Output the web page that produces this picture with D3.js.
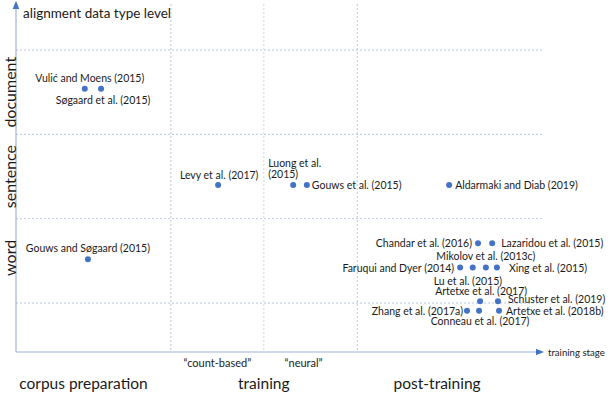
<!DOCTYPE html>
<html>
<head>
    <meta charset="UTF-8">
    <title>alignment data type level vs training stage</title>
    <script src="https://d3js.org/d3.v7.min.js"></script>
    <style>
        body { margin: 0; padding: 0; background: #fff; font-family: Lato, "Open Sans", sans-serif; }
        svg text { fill: #1a1a1a; }
        .grid { stroke: #b8c6e2; stroke-width: 1; stroke-dasharray: 2,2; fill: none; }
        .axis-line { stroke: #9fb3dc; stroke-width: 1.2; }
        .paper { font-size: 10.5px; }
        .big { font-size: 16px; }
        .stage { font-size: 15.5px; }
    </style>
</head>
<body>
    <svg id="chart" width="612" height="401"></svg>
    <script>
        // ---- data ----
        const levels = ["word", "sentence", "document"];          // y = 1, 2, 3
        const stages = ["corpus preparation", "training", "post-training"];
        const subStages = ["\u201Ccount-based\u201D", "\u201Cneural\u201D"];
        const stageBounds = [29.5, 47.2, 65];                       // x units where stages split
        const levelBounds = [0.5, 1.5, 2.5, 3.5];

        const papers = [
            "Vulić and Moens (2015)", "Søgaard et al. (2015)", "Gouws and Søgaard (2015)",
            "Levy et al. (2017)", "Luong et al.|(2015)", "Gouws et al. (2015)", "Aldarmaki and Diab (2019)",
            "Chandar et al. (2016)", "Lazaridou et al. (2015)",
            "Faruqui and Dyer (2014)", "Mikolov et al. (2013c)", "Lu et al. (2015)", "Xing et al. (2015)",
            "Artetxe et al. (2017)", "Schuster et al. (2019)",
            "Zhang et al. (2017a)", "Conneau et al. (2017)", "Artetxe et al. (2018b)"
        ];
        const paperStage = [13.1, 16.2, 13.7, 38.5, 52.8, 55.4, 82.5, 88.0, 90.7,
                            84.6, 87.0, 89.5, 91.6, 88.4, 91.8, 85.9, 88.2, 92.0];
        const paperLevel = [3.04, 3.04, 1.02, 1.90, 1.90, 1.90, 1.90, 1.21, 1.21,
                            0.92, 0.92, 0.92, 0.92, 0.52, 0.52, 0.41, 0.41, 0.41];

        // label placement: [dx, dy, anchor]
        const labelPos = [
            [5, -11, "middle"], [2, 11, "middle"], [0, -11, "middle"],
            [1, -10, "middle"], [-25, -22, "start"], [5, 0, "start"], [6, 0, "start"],
            [-6, 0, "end"], [9, 0, "start"],
            [-6, 0, "end"], [13, -12, "middle"], [-18, 13, "middle"], [12, 0, "start"],
            [1, -10, "middle"], [10, -2, "start"],
            [-4, 0, "end"], [1, 10, "middle"], [7, 0, "start"]
        ];

        const svg = d3.select("#chart");
        const x = d3.scaleLinear().domain([0, 100]).range([16, 541]);
        const y = d3.scaleLinear().domain([0, 4]).range([345.2, 7.9]);
        const yAxisPos = 352;

        // arrow marker
        svg.append("defs").append("marker")
            .attr("id", "arr").attr("viewBox", "0 0 10 10")
            .attr("refX", 5).attr("refY", 5)
            .attr("markerWidth", 7).attr("markerHeight", 7)
            .attr("orient", "auto-start-reverse")
            .append("path").attr("d", "M0,1 L10,5 L0,9 z").attr("fill", "#4472c4");

        // grid
        svg.append("g").selectAll("line").data(levelBounds).join("line")
            .attr("class", "grid")
            .attr("x1", x(0)).attr("x2", 543)
            .attr("y1", d => y(d)).attr("y2", d => y(d));
        svg.append("g").selectAll("line").data(stageBounds).join("line")
            .attr("class", "grid")
            .attr("stroke-opacity", (d, i) => i === 1 ? 0.7 : 1)
            .attr("x1", d => x(d)).attr("x2", d => x(d))
            .attr("y1", 4).attr("y2", yAxisPos);

        // axes
        svg.append("line").attr("class", "axis-line")
            .attr("x1", x(0)).attr("x2", x(0)).attr("y1", yAxisPos).attr("y2", 5)
            .attr("marker-end", "url(#arr)");
        svg.append("line").attr("class", "axis-line")
            .attr("x1", x(0)).attr("x2", 540).attr("y1", yAxisPos).attr("y2", yAxisPos)
            .attr("marker-end", "url(#arr)");

        svg.append("text").attr("x", 23).attr("y", 13)
            .attr("dominant-baseline", "central")
            .style("font-size", "13.5px")
            .text("alignment data type level");
        svg.append("text").attr("x", 548).attr("y", yAxisPos)
            .attr("dominant-baseline", "central")
            .style("font-size", "9.6px")
            .text("training stage");

        // level labels (rotated)
        svg.append("g").selectAll("text").data(levels).join("text")
            .attr("class", "big")
            .attr("transform", (d, i) => `translate(9,${y(i + 1) - (i === 0 ? 3 : 0)}) rotate(-90)`)
            .attr("text-anchor", "middle")
            .attr("dominant-baseline", "central")
            .text(d => d);

        // stage labels
        const stageMid = [
            (x(0) + x(stageBounds[0])) / 2 - 10,
            x(stageBounds[1]),
            (x(stageBounds[2]) + 517) / 2
        ];
        svg.append("g").selectAll("text").data(stages).join("text")
            .attr("class", "stage")
            .attr("x", (d, i) => stageMid[i]).attr("y", 383)
            .attr("text-anchor", "middle").attr("dominant-baseline", "central")
            .text(d => d);
        svg.append("g").selectAll("text").data(subStages).join("text")
            .style("font-size", "11px")
            .attr("x", (d, i) => (x(stageBounds[i]) + x(stageBounds[i + 1])) / 2 + (i === 0 ? 0 : -7))
            .attr("y", 362)
            .attr("text-anchor", "middle").attr("dominant-baseline", "central")
            .text(d => d);

        // points
        const pts = papers.map((p, i) => ({ name: p, sx: paperStage[i], lv: paperLevel[i], pos: labelPos[i] }));
        svg.append("g").selectAll("circle").data(pts).join("circle")
            .attr("cx", d => x(d.sx)).attr("cy", d => y(d.lv))
            .attr("r", 3).attr("fill", "#4472c4");

        const lab = svg.append("g").selectAll("text").data(pts).join("text")
            .attr("class", "paper")
            .attr("x", d => x(d.sx) + d.pos[0])
            .attr("y", d => y(d.lv) + d.pos[1])
            .attr("text-anchor", d => d.pos[2])
            .attr("dominant-baseline", "central");
        lab.each(function (d) {
            const parts = d.name.split("|");
            const t = d3.select(this);
            parts.forEach((s, k) => {
                t.append("tspan")
                    .attr("x", x(d.sx) + d.pos[0])
                    .attr("dy", k === 0 ? 0 : 11)
                    .text(s);
            });
        });
    </script>
</body>
</html>
